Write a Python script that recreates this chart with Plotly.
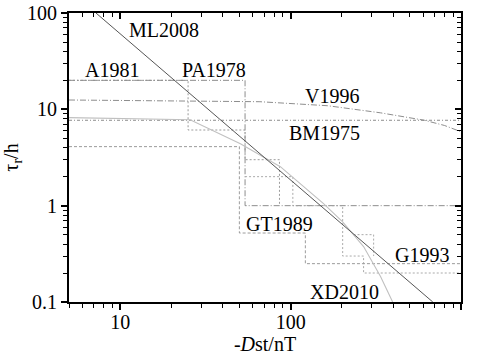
import numpy as np
import plotly.graph_objects as go

# ---- data (Dst in nT, tau in hours) ----
ml2008_dst = [7.2, 683]
ml2008_tau = [100, 0.1]

a1981_dst = [5, 54, 54, 1000]
a1981_tau = [20, 20, 1, 1]

pa1978_dst = [5, 25, 25, 54, 54, 86, 86]
pa1978_tau = [20, 20, 6.1, 6.1, 3.0, 3.0, 1.0]

v1996_dst = [5, 30, 66, 165, 337, 610, 800, 1000]
v1996_tau = [12.5, 12.3, 12.0, 10.9, 9.2, 7.7, 6.8, 5.85]

bm1975_dst = [5, 1000]
bm1975_tau = [7.7, 7.7]

gt1989_dst = [5, 50, 50, 122, 122, 1000]
gt1989_tau = [4.1, 4.1, 0.52, 0.52, 0.25, 0.25]

g1993_dst = [54, 103, 103, 202, 202, 268, 268, 1000, None, 234, 307, 307]
g1993_tau = [2.0, 2.0, 1.0, 1.0, 0.3, 0.3, 0.2, 0.2, None, 0.5, 0.5, 0.3]

xd2010_dst = [5, 25.7, 50.7, 87, 156, 202, 268, 337, 397]
xd2010_tau = [8.2, 7.8, 4.4, 2.54, 1.05, 0.68, 0.376, 0.184, 0.1]

labels = ["ML2008", "A1981", "PA1978", "V1996", "BM1975", "GT1989", "G1993", "XD2010"]
label_dst = [18.0, 8.9, 35.4, 174, 157, 86.4, 588, 208]
label_tau = [66.6, 25.6, 25.6, 13.7, 5.7, 0.645, 0.308, 0.127]

x_ticks = [10, 100, 1000]
y_ticks = [0.1, 1, 10, 100]
y_ticktext = ["0.1", "1", "10", "100"]

FONT = "Times New Roman"

fig = go.Figure()

def add(xs, ys, color, dash, width=1.0):
    fig.add_trace(go.Scatter(x=xs, y=ys, mode="lines", connectgaps=False,
                             line=dict(color=color, dash=dash, width=width),
                             showlegend=False, hoverinfo="skip"))

add(a1981_dst, a1981_tau, "#808080", "6px,2px,1px,2px", 0.9)
add(pa1978_dst, pa1978_tau, "#909090", "2px,2px", 0.9)
add(v1996_dst, v1996_tau, "#808080", "6px,2px,1px,2px", 0.9)
add(bm1975_dst, bm1975_tau, "#808080", "3px,2px,1px,2px", 0.9)
add(gt1989_dst, gt1989_tau, "#909090", "3px,2px", 0.9)
add(g1993_dst, g1993_tau, "#a0a0a0", "2px,2px", 0.9)
add(xd2010_dst, xd2010_tau, "#c0c0c0", "solid", 1.1)
add(ml2008_dst, ml2008_tau, "#555555", "solid", 1.0)

# invisible traces to activate mirror axes
fig.add_trace(go.Scatter(x=[10], y=[1], xaxis="x2", yaxis="y", mode="lines",
                         line=dict(width=0), showlegend=False, hoverinfo="skip"))
fig.add_trace(go.Scatter(x=[10], y=[1], xaxis="x", yaxis="y2", mode="lines",
                         line=dict(width=0), showlegend=False, hoverinfo="skip"))

for t, xd, yt in zip(labels, label_dst, label_tau):
    fig.add_annotation(x=np.log10(xd), y=np.log10(yt), text=t, showarrow=False,
                       font=dict(family=FONT, size=20, color="black"),
                       xanchor="center", yanchor="middle")

x_minor = [v * d for d in (1, 10, 100) for v in range(2, 10) if 5 <= v * d <= 1000]
y_minor = [v * d for d in (0.1, 1, 10) for v in range(2, 10)]

xr = [np.log10(5), 3]
yr = [-1, 2]

common = dict(type="log", showgrid=False, zeroline=False, showline=True,
              linecolor="black", linewidth=2, tickcolor="black", tickwidth=1.5,
              automargin=False)

fig.update_layout(
    width=477, height=359,
    margin=dict(l=69, r=16, t=13, b=57),
    paper_bgcolor="white", plot_bgcolor="white",
    font=dict(family=FONT, size=20, color="black"),
    xaxis=dict(**common, range=xr, tickmode="array", tickvals=x_ticks,
               ticktext=[str(v) for v in x_ticks], ticks="outside", ticklen=6,
               ticklabelstandoff=-5,
               tickfont=dict(family=FONT, size=20),
               minor=dict(tickmode="array", tickvals=x_minor, ticks="outside",
                          ticklen=4, tickcolor="black", tickwidth=1),
               title=dict(text="-<i>D</i>st/nT", font=dict(size=20, family=FONT), standoff=4)),
    yaxis=dict(**common, range=yr, tickmode="array", tickvals=y_ticks,
               ticktext=y_ticktext, ticks="outside", ticklen=6,
               tickfont=dict(family=FONT, size=20),
               minor=dict(tickmode="array", tickvals=y_minor, ticks="outside",
                          ticklen=4, tickcolor="black", tickwidth=1),
               title=dict(text="τ<sub>r</sub>/h", font=dict(size=20, family=FONT), standoff=8)),
    xaxis2=dict(**common, range=xr, overlaying="x", side="top", anchor="y",
                tickmode="array", tickvals=x_ticks, ticks="inside", ticklen=6,
                showticklabels=False,
                minor=dict(tickmode="array", tickvals=x_minor, ticks="inside",
                           ticklen=4, tickcolor="black", tickwidth=1)),
    yaxis2=dict(**common, range=yr, overlaying="y", side="right", anchor="x",
                tickmode="array", tickvals=y_ticks, ticks="inside", ticklen=6,
                showticklabels=False,
                minor=dict(tickmode="array", tickvals=y_minor, ticks="inside",
                           ticklen=4, tickcolor="black", tickwidth=1)),
)

fig.write_html("out.html")
